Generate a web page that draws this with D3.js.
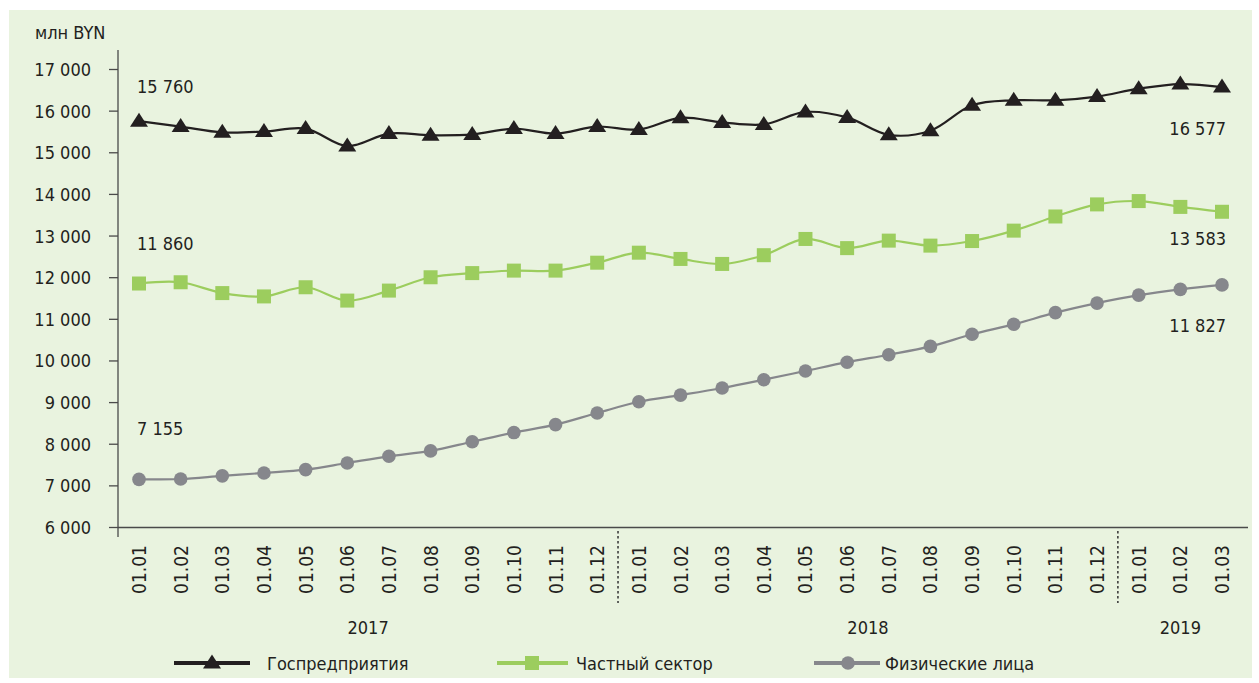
<!DOCTYPE html>
<html>
<head>
<meta charset="utf-8">
<script src="https://cdn.jsdelivr.net/npm/d3@7"></script>
<style>
  body { margin: 0; background: #fff; }
  text { font-family: "Liberation Sans Narrow", "DejaVu Sans Condensed", sans-serif; fill: #231f20; }
</style>
</head>
<body>
<div id="chart"></div>
<script>
// data
var months = ["01.01","01.02","01.03","01.04","01.05","01.06","01.07","01.08","01.09","01.10","01.11","01.12",
              "01.01","01.02","01.03","01.04","01.05","01.06","01.07","01.08","01.09","01.10","01.11","01.12",
              "01.01","01.02","01.03"];
var years = [{ label: "2017", from: 0, to: 11 }, { label: "2018", from: 12, to: 23 }, { label: "2019", from: 24, to: 26 }];
var yTicks = [6000, 7000, 8000, 9000, 10000, 11000, 12000, 13000, 14000, 15000, 16000, 17000];

var gosp = [15760, 15630, 15490, 15510, 15580, 15160, 15460, 15420, 15440, 15580, 15460, 15630,
            15560, 15840, 15730, 15680, 15980, 15850, 15430, 15530, 16140, 16260, 16260, 16350,
            16540, 16650, 16577];
var chast = [11860, 11890, 11630, 11550, 11770, 11450, 11690, 12010, 12110, 12170, 12170, 12360,
             12600, 12450, 12330, 12540, 12930, 12710, 12890, 12770, 12880, 13130, 13470, 13760,
             13840, 13700, 13583];
var fiz = [7155, 7165, 7240, 7310, 7390, 7550, 7710, 7840, 8060, 8280, 8470, 8750,
           9020, 9180, 9350, 9550, 9760, 9970, 10150, 10350, 10640, 10880, 11160, 11390,
           11580, 11720, 11827];

var seriesNames = ["Госпредприятия", "Частный сектор", "Физические лица"];
var seriesColors = ["#231f20", "#9ccd5e", "#86878c"];
var seriesShapes = ["triangle", "square", "circle"];

var fmt = function(v) { return d3.format(",")(v).replace(/,/g, " "); };

var svgWidth = 1259, svgHeight = 683;

var svg = d3.select("#chart").append("svg")
  .attr("width", svgWidth)
  .attr("height", svgHeight);

// panel background
svg.append("rect")
  .attr("x", 9).attr("y", 10)
  .attr("width", 1243).attr("height", 668)
  .attr("fill", "#e9f3df");

var x = d3.scalePoint()
  .domain(d3.range(months.length))
  .range([139, 1222]);

var y = d3.scaleLinear()
  .domain([6000, 17000])
  .range([527.5, 69.5]);

// y axis
svg.append("line")
  .attr("x1", 118).attr("x2", 118)
  .attr("y1", 50).attr("y2", 537)
  .attr("stroke", "#4a4a4a").attr("stroke-width", 1.3);

svg.selectAll(".ytick").data(yTicks).enter().append("line")
  .attr("x1", 109).attr("x2", 118)
  .attr("y1", d => y(d)).attr("y2", d => y(d))
  .attr("stroke", "#4a4a4a").attr("stroke-width", 1.3);

svg.selectAll(".ylab").data(yTicks).enter().append("text")
  .attr("x", 91)
  .attr("y", d => y(d))
  .attr("dy", "0.36em")
  .attr("text-anchor", "end")
  .attr("font-size", "18px")
  .text(d => fmt(d));

svg.append("text")
  .attr("x", 35).attr("y", 39)
  .attr("font-size", "18px")
  .text("млн BYN");

// x axis
svg.append("line")
  .attr("x1", 118).attr("x2", 1248)
  .attr("y1", y(6000)).attr("y2", y(6000))
  .attr("stroke", "#4a4a4a").attr("stroke-width", 1.3);

svg.selectAll(".xlab").data(months).enter().append("text")
  .attr("transform", (d, i) => `translate(${x(i) + 7}, 545) rotate(-90)`)
  .attr("text-anchor", "end")
  .attr("font-size", "19px")
  .text(d => d);

// year separators
[11.5, 23.5].forEach(function(p) {
  var px = x(0) + p * x.step();
  svg.append("line")
    .attr("x1", px).attr("x2", px)
    .attr("y1", 531).attr("y2", 603)
    .attr("stroke", "#333").attr("stroke-width", 1.5)
    .attr("stroke-dasharray", "2.5,2.5");
});

svg.selectAll(".year").data(years).enter().append("text")
  .attr("x", d => (x(d.from) + x(d.to)) / 2)
  .attr("y", 634)
  .attr("text-anchor", "middle")
  .attr("font-size", "18px")
  .text(d => d.label);

// markers
function drawMarker(g, shape, color, cx, cy) {
  if (shape === "triangle") {
    g.append("path")
      .attr("d", `M${cx},${cy - 8.5} L${cx + 9},${cy + 5.5} L${cx - 9},${cy + 5.5} Z`)
      .attr("fill", color);
  } else if (shape === "square") {
    g.append("rect")
      .attr("x", cx - 7).attr("y", cy - 7)
      .attr("width", 14).attr("height", 14)
      .attr("fill", color);
  } else {
    g.append("circle")
      .attr("cx", cx).attr("cy", cy).attr("r", 6.8)
      .attr("fill", color);
  }
}

var line = d3.line()
  .x((d, i) => x(i))
  .y(d => y(d))
  .curve(d3.curveCatmullRom.alpha(0.5));

[gosp, chast, fiz].forEach(function(series, k) {
  var g = svg.append("g");
  g.append("path")
    .datum(series)
    .attr("d", line)
    .attr("fill", "none")
    .attr("stroke", seriesColors[k])
    .attr("stroke-width", 2.2);
  series.forEach(function(v, i) {
    drawMarker(g, seriesShapes[k], seriesColors[k], x(i), y(v));
  });
});

// value labels
var startLabels = [{ v: gosp[0], y: 93 }, { v: chast[0], y: 250 }, { v: fiz[0], y: 435 }];
var endLabels = [{ v: gosp[gosp.length - 1], y: 135 }, { v: chast[chast.length - 1], y: 245 }, { v: fiz[fiz.length - 1], y: 332 }];

svg.selectAll(".slab").data(startLabels).enter().append("text")
  .attr("x", 137).attr("y", d => d.y)
  .attr("font-size", "18px")
  .text(d => fmt(d.v));

svg.selectAll(".elab").data(endLabels).enter().append("text")
  .attr("x", 1226).attr("y", d => d.y)
  .attr("text-anchor", "end")
  .attr("font-size", "18px")
  .text(d => fmt(d.v));

// legend
var legend = [
  { x1: 174, x2: 250, m: 212, t: 267 },
  { x1: 497, x2: 568, m: 532, t: 576 },
  { x1: 814, x2: 880, m: 848, t: 885 }
];
legend.forEach(function(l, k) {
  var g = svg.append("g");
  g.append("line")
    .attr("x1", l.x1).attr("x2", l.x2)
    .attr("y1", 663).attr("y2", 663)
    .attr("stroke", seriesColors[k]).attr("stroke-width", 4);
  drawMarker(g, seriesShapes[k], seriesColors[k], l.m, 663);
  g.append("text")
    .attr("x", l.t).attr("y", 670)
    .attr("font-size", "18px")
    .text(seriesNames[k]);
});
</script>
</body>
</html>
